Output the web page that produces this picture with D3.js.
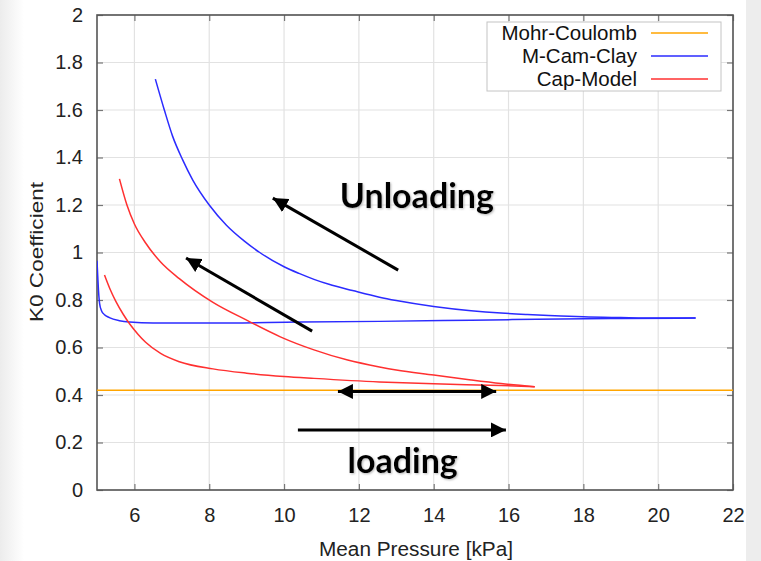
<!DOCTYPE html>
<html lang="en">
<head>
<meta charset="UTF-8">
<title>K0 Coefficient</title>
<script src="https://d3js.org/d3.v7.min.js"></script>
<style>
    body { margin: 0; background: #fff; }
    svg { display: block; font-family: "Liberation Sans", Arial, sans-serif; }
</style>
</head>
<body>
<svg id="chart" width="761" height="561"></svg>
<script>
// data (x = mean pressure kPa, y = K0)
var mohrX = [5, 22];
var mohrY = [0.42, 0.42];

var camLoadX = [5.0, 5.02, 5.04, 5.07, 5.12, 5.2, 5.33, 5.6, 5.87, 6.5, 8.1, 10.4, 12.55, 15, 17.4, 19, 21];
var camLoadY = [0.965, 0.9, 0.84, 0.785, 0.755, 0.738, 0.726, 0.713, 0.707, 0.703, 0.703, 0.707, 0.71, 0.715, 0.72, 0.722, 0.724];

var camUnloadX = [6.56, 6.8, 7.02, 7.29, 7.56, 8.0, 8.46, 8.94, 9.35, 10.0, 10.4, 10.8, 11.2, 11.83, 12.55, 13.0, 14.0, 15.0, 15.8, 16.5, 17.4, 18.0, 19.0, 20.0, 21.0];
var camUnloadY = [1.73, 1.60, 1.49, 1.39, 1.305, 1.20, 1.115, 1.048, 1.0, 0.94, 0.912, 0.887, 0.866, 0.84, 0.812, 0.798, 0.773, 0.755, 0.745, 0.739, 0.733, 0.729, 0.726, 0.724, 0.724];

var capLoadX = [5.2, 5.35, 5.5, 5.7, 5.87, 6.1, 6.3, 6.7, 7.2, 8.1, 9.0, 10.0, 10.8, 12.55, 14.0, 15.8, 16.7];
var capLoadY = [0.905, 0.845, 0.795, 0.74, 0.70, 0.655, 0.622, 0.575, 0.54, 0.51, 0.492, 0.478, 0.47, 0.455, 0.447, 0.44, 0.435];

var capUnloadX = [5.6, 5.8, 6.0, 6.3, 6.7, 7.2, 8.1, 9.0, 9.9, 10.8, 11.7, 12.55, 13.0, 14.0, 15.0, 15.8, 16.7];
var capUnloadY = [1.31, 1.2, 1.12, 1.04, 0.96, 0.89, 0.79, 0.715, 0.645, 0.59, 0.547, 0.518, 0.505, 0.484, 0.463, 0.448, 0.435];

var xTicks = [6, 8, 10, 12, 14, 16, 18, 20, 22];
var yTicks = [0, 0.2, 0.4, 0.6, 0.8, 1, 1.2, 1.4, 1.6, 1.8, 2];

var legendNames = ["Mohr-Coulomb", "M-Cam-Clay", "Cap-Model"];
var legendColors = ["#ffa500", "#2b2bff", "#ff3030"];

// annotation arrows [x1, y1, x2, y2] in data units, heads at the second point
var arrowLines = [
    [13.05, 0.926, 9.70, 1.229],
    [10.75, 0.669, 7.38, 0.977],
    [10.37, 0.253, 15.93, 0.253]
];
var doubleArrow = [11.44, 0.415, 15.67, 0.415];
var notes = [
    { text: "Unloading", x: 13.55, y: 1.187 },
    { text: "loading", x: 13.17, y: 0.072 }
];

var svg = d3.select("#chart"),
    width = +svg.attr("width"),
    height = +svg.attr("height");

var mLeft = 97, mRight = 733, mTop = 15, mBottom = 490;

var x = d3.scaleLinear().domain([5, 22]).range([mLeft, mRight]);
var y = d3.scaleLinear().domain([0, 2]).range([mBottom, mTop]);

// slide-like grey edges
var defs = svg.append("defs");
var grad = defs.append("linearGradient").attr("id", "edge");
grad.append("stop").attr("offset", "0").attr("stop-color", "#ececec");
grad.append("stop").attr("offset", "1").attr("stop-color", "#ffffff");
svg.append("rect").attr("x", 0).attr("y", 0).attr("width", 24).attr("height", height).attr("fill", "url(#edge)");
svg.append("rect").attr("x", 746).attr("y", 0).attr("width", 15).attr("height", height).attr("fill", "#ededed");

defs.append("marker")
    .attr("id", "head")
    .attr("viewBox", "0 0 10 10")
    .attr("refX", 10).attr("refY", 5)
    .attr("markerWidth", 5).attr("markerHeight", 5)
    .attr("markerUnits", "strokeWidth")
    .attr("orient", "auto-start-reverse")
    .append("path").attr("d", "M0,0 L10,5 L0,10 Z").attr("fill", "#000");

defs.append("filter").attr("id", "shadow")
    .append("feDropShadow")
    .attr("dx", 1).attr("dy", 1).attr("stdDeviation", 0.8)
    .attr("flood-color", "#888").attr("flood-opacity", 0.6);

// grid
var grid = svg.append("g").attr("stroke", "#e2e2e2").attr("stroke-width", 1.2);
xTicks.forEach(function (t) {
    grid.append("line").attr("x1", x(t)).attr("x2", x(t)).attr("y1", mTop).attr("y2", mBottom);
});
yTicks.forEach(function (t) {
    grid.append("line").attr("x1", mLeft).attr("x2", mRight).attr("y1", y(t)).attr("y2", y(t));
});

// axes with inward ticks on all sides
var tickCol = "#777";
svg.append("g").attr("transform", "translate(0," + mBottom + ")")
    .call(d3.axisBottom(x).tickValues(xTicks).tickSizeInner(-6).tickSizeOuter(0).tickPadding(18).tickFormat(d3.format("d")));
svg.append("g").attr("transform", "translate(" + mLeft + ",0)")
    .call(d3.axisLeft(y).tickValues(yTicks).tickSizeInner(-6).tickSizeOuter(0).tickPadding(14).tickFormat(function (d) { return d3.format("")(d); }));
svg.append("g").attr("transform", "translate(0," + mTop + ")")
    .call(d3.axisTop(x).tickValues(xTicks).tickSizeInner(-6).tickSizeOuter(0).tickFormat(""));
svg.append("g").attr("transform", "translate(" + mRight + ",0)")
    .call(d3.axisRight(y).tickValues(yTicks).tickSizeInner(-6).tickSizeOuter(0).tickFormat(""));

svg.selectAll(".domain").remove();
svg.selectAll(".tick line").attr("stroke", tickCol).attr("stroke-width", 1.2);
svg.selectAll(".tick text").attr("font-size", 20).attr("fill", "#222")
    .attr("font-family", "Liberation Sans, Arial, sans-serif");

svg.append("rect")
    .attr("x", mLeft).attr("y", mTop).attr("width", mRight - mLeft).attr("height", mBottom - mTop)
    .attr("fill", "none").attr("stroke", "#555").attr("stroke-width", 1.6);

// curves
var clip = defs.append("clipPath").attr("id", "plotclip");
clip.append("rect").attr("x", mLeft).attr("y", mTop).attr("width", mRight - mLeft).attr("height", mBottom - mTop);

var line = d3.line().x(function (d) { return x(d[0]); }).y(function (d) { return y(d[1]); }).curve(d3.curveMonotoneX);
var curves = svg.append("g").attr("clip-path", "url(#plotclip)").attr("fill", "none").attr("stroke-width", 1.5);

function draw(xs, ys, color) {
    curves.append("path").datum(d3.zip(xs, ys)).attr("d", line).attr("stroke", color);
}
draw(mohrX, mohrY, legendColors[0]);
draw(camLoadX, camLoadY, legendColors[1]);
draw(camUnloadX, camUnloadY, legendColors[1]);
draw(capLoadX, capLoadY, legendColors[2]);
draw(capUnloadX, capUnloadY, legendColors[2]);

// legend
var legend = svg.append("g");
legend.append("rect").attr("x", 487).attr("y", 22).attr("width", 234).attr("height", 69)
    .attr("fill", "#fff").attr("stroke", "#c4c4c4").attr("stroke-width", 1);
legendNames.forEach(function (name, i) {
    var ly = 33 + i * 23;
    legend.append("text").attr("x", 637).attr("y", ly).attr("dy", "0.35em")
        .attr("text-anchor", "end").attr("font-size", 20.5).attr("fill", "#111").text(name);
    legend.append("line").attr("x1", 651).attr("x2", 708).attr("y1", ly).attr("y2", ly)
        .attr("stroke", legendColors[i]).attr("stroke-width", 1.5);
});

// axis titles
svg.append("text").attr("x", 416).attr("y", 556)
    .attr("text-anchor", "middle").attr("font-size", 20).attr("fill", "#222")
    .attr("textLength", 194).attr("lengthAdjust", "spacingAndGlyphs").text("Mean Pressure [kPa]");
svg.append("text").attr("transform", "translate(43,252) rotate(-90)")
    .attr("text-anchor", "middle").attr("font-size", 19).attr("fill", "#222")
    .attr("textLength", 140).attr("lengthAdjust", "spacingAndGlyphs").text("K0 Coefficient");

// annotations
var ann = svg.append("g").attr("stroke", "#000").attr("stroke-width", 3);
arrowLines.forEach(function (a) {
    ann.append("line").attr("x1", x(a[0])).attr("y1", y(a[1])).attr("x2", x(a[2])).attr("y2", y(a[3]))
        .attr("marker-end", "url(#head)");
});
ann.append("line").attr("x1", x(doubleArrow[0])).attr("y1", y(doubleArrow[1]))
    .attr("x2", x(doubleArrow[2])).attr("y2", y(doubleArrow[3]))
    .attr("marker-start", "url(#head)").attr("marker-end", "url(#head)");

notes.forEach(function (n) {
    svg.append("text").attr("x", x(n.x)).attr("y", y(n.y))
        .attr("text-anchor", "middle").attr("font-family", "Lato, 'Open Sans', sans-serif")
        .attr("font-weight", "bold").attr("font-size", 34).attr("fill", "#000")
        .attr("filter", "url(#shadow)").text(n.text);
});
</script>
</body>
</html>
